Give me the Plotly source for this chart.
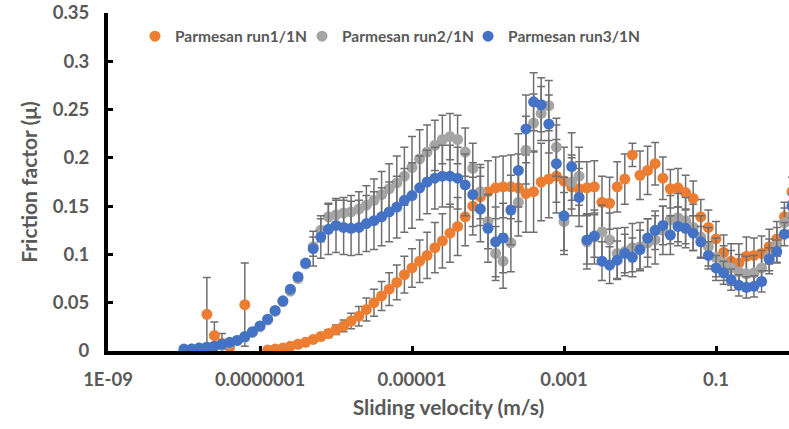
import plotly.graph_objects as go

# Sliding velocity sweep (m/s), 10 points per decade
velocity = [
    1.00e-8, 1.26e-8, 1.58e-8, 2.00e-8, 2.51e-8, 3.16e-8, 3.98e-8, 5.01e-8, 6.31e-8, 7.94e-8,
    1.00e-7, 1.26e-7, 1.58e-7, 2.00e-7, 2.51e-7, 3.16e-7, 3.98e-7, 5.01e-7, 6.31e-7, 7.94e-7,
    1.00e-6, 1.26e-6, 1.58e-6, 2.00e-6, 2.51e-6, 3.16e-6, 3.98e-6, 5.01e-6, 6.31e-6, 7.94e-6,
    1.00e-5, 1.26e-5, 1.58e-5, 2.00e-5, 2.51e-5, 3.16e-5, 3.98e-5, 5.01e-5, 6.31e-5, 7.94e-5,
    1.00e-4, 1.26e-4, 1.58e-4, 2.00e-4, 2.51e-4, 3.16e-4, 3.98e-4, 5.01e-4, 6.31e-4, 7.94e-4,
    1.00e-3, 1.26e-3, 1.58e-3, 2.00e-3, 2.51e-3, 3.16e-3, 3.98e-3, 5.01e-3, 6.31e-3, 7.94e-3,
    1.00e-2, 1.26e-2, 1.58e-2, 2.00e-2, 2.51e-2, 3.16e-2, 3.98e-2, 5.01e-2, 6.31e-2, 7.94e-2,
    1.00e-1, 1.26e-1, 1.58e-1, 2.00e-1, 2.51e-1, 3.16e-1, 3.98e-1, 5.01e-1, 6.31e-1, 7.94e-1,
    1.00e0,
]

N = None

# Friction factor, run 1
run1 = [
    N, N, N, 0.038, 0.016, 0.008, 0.004, N, 0.048, N,
    N, 0.001, 0.002, 0.003, 0.005, 0.007, 0.009, 0.012, 0.015, 0.018,
    0.022, 0.026, 0.031, 0.036, 0.043, 0.050, 0.057, 0.064, 0.071, 0.079,
    0.086, 0.093, 0.099, 0.107, 0.114, 0.122, 0.129, 0.139, 0.150, 0.160,
    0.165, 0.169, 0.170, 0.170, 0.169, 0.163, 0.165, 0.175, 0.178, 0.181,
    0.176, 0.170, 0.168, 0.169, 0.170, 0.154, 0.153, 0.170, 0.178, 0.203,
    0.182, 0.187, 0.194, 0.179, 0.168, 0.169, 0.164, 0.158, 0.139, 0.128,
    0.116, 0.102, 0.093, 0.091, 0.098, 0.099, 0.101, 0.108, 0.116, 0.139,
    0.165,
]
run1_err = [
    N, N, N, 0.038, 0.014, 0.010, 0.004, N, 0.043, N,
    N, 0.001, 0.001, 0.001, 0.001, 0.001, 0.001, 0.002, 0.003, 0.004,
    0.005, 0.006, 0.008, 0.010, 0.012, 0.014, 0.015, 0.017, 0.018, 0.019,
    0.020, 0.022, 0.024, 0.026, 0.028, 0.030, 0.030, 0.030, 0.030, 0.030,
    0.032, 0.032, 0.032, 0.033, 0.035, 0.040, 0.042, 0.040, 0.040, 0.038,
    0.035, 0.030, 0.028, 0.027, 0.027, 0.027, 0.027, 0.026, 0.026, 0.012,
    0.025, 0.025, 0.022, 0.022, 0.020, 0.020, 0.018, 0.018, 0.018, 0.018,
    0.018, 0.018, 0.018, 0.020, 0.020, 0.018, 0.018, 0.018, 0.018, 0.015,
    0.015,
]

# Friction factor, run 2
run2 = [
    0.001, 0.002, 0.003, 0.004, 0.005, 0.006, 0.008, 0.011, 0.014, 0.019,
    0.025, 0.032, 0.041, 0.051, 0.062, 0.075, 0.090, 0.108, 0.125, 0.139,
    0.141, 0.143, 0.144, 0.147, 0.151, 0.156, 0.162, 0.168, 0.174, 0.181,
    0.190, 0.199, 0.206, 0.213, 0.219, 0.222, 0.219, 0.206, 0.189, 0.165,
    0.134, 0.101, 0.093, 0.112, 0.154, 0.208, 0.236, 0.246, 0.254, 0.211,
    0.134, 0.175, 0.181, 0.113, 0.118, 0.123, 0.115, 0.101, 0.103, 0.107,
    0.108, 0.112, 0.115, 0.125, 0.136, 0.138, 0.135, 0.128, 0.118, 0.108,
    0.097, 0.091, 0.086, 0.082, 0.080, 0.081, 0.086, 0.098, 0.110, 0.133,
    0.140,
]
run2_err = [
    0.001, 0.001, 0.001, 0.001, 0.001, 0.001, 0.001, 0.001, 0.001, 0.001,
    0.001, 0.001, 0.001, 0.001, 0.001, 0.001, 0.001, 0.010, 0.012, 0.014,
    0.015, 0.016, 0.017, 0.018, 0.020, 0.022, 0.024, 0.026, 0.028, 0.030,
    0.032, 0.030, 0.028, 0.026, 0.025, 0.024, 0.025, 0.025, 0.026, 0.028,
    0.028, 0.028, 0.028, 0.030, 0.035, 0.035, 0.030, 0.028, 0.026, 0.030,
    0.030, 0.028, 0.030, 0.028, 0.028, 0.028, 0.028, 0.026, 0.025, 0.025,
    0.025, 0.025, 0.025, 0.025, 0.025, 0.025, 0.024, 0.024, 0.022, 0.020,
    0.020, 0.018, 0.018, 0.018, 0.018, 0.018, 0.018, 0.018, 0.018, 0.015,
    0.015,
]

# Friction factor, run 3
run3 = [
    0.002, 0.002, 0.003, 0.004, 0.005, 0.007, 0.009, 0.011, 0.015, 0.020,
    0.026, 0.033, 0.042, 0.052, 0.064, 0.077, 0.091, 0.106, 0.118, 0.126,
    0.130, 0.128, 0.127, 0.128, 0.132, 0.135, 0.139, 0.144, 0.149, 0.156,
    0.161, 0.169, 0.175, 0.179, 0.181, 0.181, 0.179, 0.172, 0.162, 0.147,
    0.127, 0.113, 0.117, 0.146, 0.187, 0.230, 0.258, 0.255, 0.235, 0.194,
    0.140, 0.191, 0.159, 0.115, 0.119, 0.093, 0.089, 0.094, 0.101, 0.097,
    0.105, 0.117, 0.125, 0.130, 0.120, 0.129, 0.127, 0.122, 0.113, 0.099,
    0.086, 0.081, 0.074, 0.068, 0.066, 0.067, 0.072, 0.095, 0.103, 0.121,
    0.150,
]
run3_err = [
    0.001, 0.001, 0.001, 0.001, 0.001, 0.001, 0.001, 0.001, 0.001, 0.001,
    0.001, 0.001, 0.001, 0.001, 0.001, 0.001, 0.001, 0.018, 0.022, 0.026,
    0.028, 0.028, 0.028, 0.028, 0.029, 0.030, 0.030, 0.031, 0.032, 0.033,
    0.034, 0.033, 0.033, 0.032, 0.032, 0.032, 0.032, 0.032, 0.033, 0.034,
    0.035, 0.036, 0.036, 0.036, 0.038, 0.035, 0.030, 0.028, 0.030, 0.040,
    0.040, 0.035, 0.030, 0.025, 0.022, 0.020, 0.019, 0.020, 0.020, 0.020,
    0.020, 0.020, 0.020, 0.020, 0.020, 0.020, 0.020, 0.018, 0.016, 0.014,
    0.013, 0.012, 0.011, 0.011, 0.011, 0.011, 0.011, 0.012, 0.012, 0.012,
    0.012,
]

series_names = ["Parmesan run1/1N", "Parmesan run2/1N", "Parmesan run3/1N"]
series_colors = ["#ED7D31", "#A5A5A5", "#4472C4"]
legend_ids = ["legend", "legend2", "legend3"]

x_tick_vals = [1e-9, 1e-7, 1e-5, 1e-3, 1e-1]
x_tick_text = ["1E-09", "0.0000001", "0.00001", "0.001", "0.1"]
y_tick_vals = [0, 0.05, 0.1, 0.15, 0.2, 0.25, 0.3, 0.35]
y_tick_text = ["0", "0.05", "0.1", "0.15", "0.2", "0.25", "0.3", "0.35"]

TEXT = "#595959"
FONT = "Lato"

fig = go.Figure()
for name, color, ys, err, lg in zip(series_names, series_colors,
                                    [run1, run2, run3], [run1_err, run2_err, run3_err],
                                    legend_ids):
    fig.add_trace(go.Scatter(
        x=velocity, y=ys, mode="markers", name=name, legend=lg,
        marker=dict(size=11, color=color, line=dict(width=0)),
        error_y=dict(type="data", array=err, visible=True,
                     color="#6f6f6f", thickness=1.5, width=4),
    ))

legend_font = dict(family=FONT, size=15.5, color=TEXT, weight="bold")
legend_common = dict(orientation="h", xanchor="left", y=0.93, yanchor="middle",
                     font=legend_font, itemwidth=30,
                     bgcolor="rgba(0,0,0,0)", borderwidth=0)

fig.update_layout(
    width=789, height=429,
    margin=dict(l=108, r=0, t=13, b=78),
    paper_bgcolor="white", plot_bgcolor="white",
    font=dict(family=FONT, color=TEXT, size=17, weight="bold"),
    showlegend=True,
    legend=dict(x=0.0396, **legend_common),
    legend2=dict(x=0.2849, **legend_common),
    legend3=dict(x=0.5287, **legend_common),
)

fig.update_xaxes(
    type="log", range=[-9, -0.0395],
    showgrid=False, zeroline=False,
    showline=True, linecolor="black", linewidth=4,
    ticks="inside", ticklen=5, tickwidth=3, tickcolor="black",
    tickmode="array", tickvals=x_tick_vals, ticktext=x_tick_text,
    tickfont=dict(family=FONT, size=18.5, color=TEXT, weight="bold"),
    ticklabelstandoff=9,
    title=dict(text="Sliding velocity (m/s)", standoff=12,
               font=dict(family=FONT, size=21, color=TEXT, weight="bold")),
)
fig.update_yaxes(
    range=[0, 0.35],
    showgrid=False, zeroline=False,
    showline=True, linecolor="black", linewidth=4,
    ticks="inside", ticklen=5, tickwidth=3, tickcolor="black",
    tickmode="array", tickvals=y_tick_vals, ticktext=y_tick_text,
    tickfont=dict(family=FONT, size=18.5, color=TEXT, weight="bold"),
    ticklabelstandoff=11,
    title=dict(text="Friction factor (μ)", standoff=10,
               font=dict(family=FONT, size=21, color=TEXT, weight="bold")),
)

fig.write_html("out.html")
